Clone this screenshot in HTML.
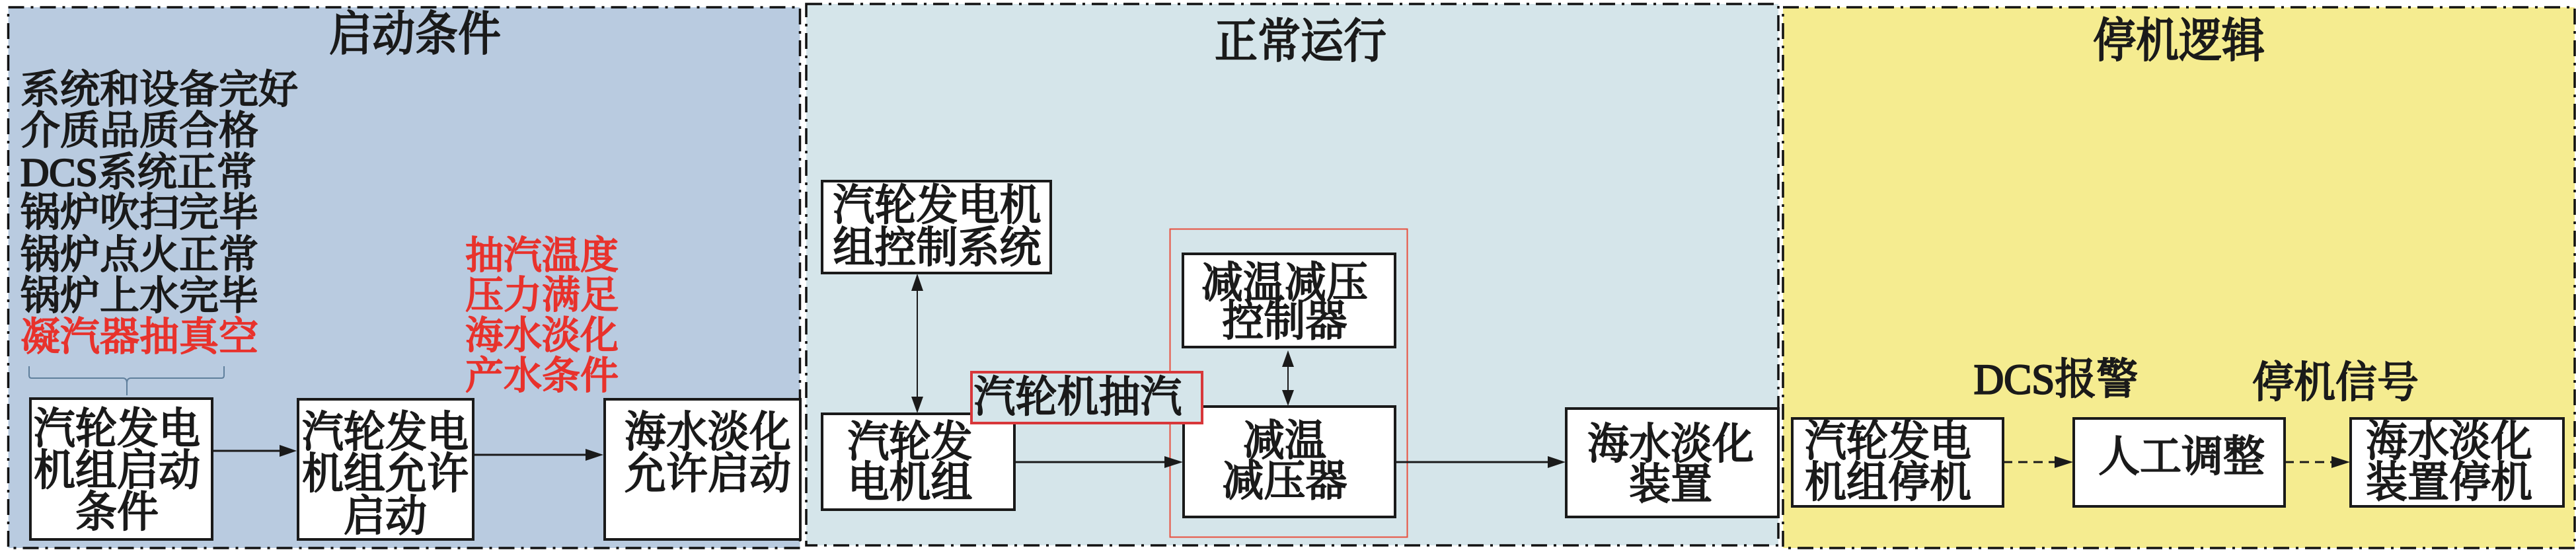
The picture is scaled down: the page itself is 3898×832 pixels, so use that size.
<!DOCTYPE html>
<html><head><meta charset="utf-8"><style>
html,body{margin:0;padding:0;background:#fff;width:3898px;height:832px;overflow:hidden}
svg{display:block}
text{font-family:"Liberation Serif","Noto Serif CJK SC",serif;font-weight:400;fill:#1a1a1a;stroke:#1a1a1a;stroke-width:2.2;font-size:63px;text-anchor:middle;transform-box:fill-box;transform-origin:center;transform:scaleY(1.03)}
.t{font-size:65px;transform:scaleY(1.1)}
.l{text-anchor:start;font-size:60px;transform:scaleY(1)}
.r{fill:#e8322c;stroke:#e8322c;font-size:58px;text-anchor:start;transform:scaleY(1)}
.b{fill:#fff;stroke:#1a1a1a;stroke-width:4}
.a{stroke:#1a1a1a;stroke-width:3;fill:none}
.h{fill:#1a1a1a;stroke:none}
.p{stroke:#111;stroke-width:3.5;stroke-dasharray:24 10 4 10}
</style></head><body>
<svg width="3898" height="832" viewBox="0 0 3898 832" xmlns="http://www.w3.org/2000/svg">
<rect width="3898" height="832" fill="#fff"/>
<rect class="p" x="12.5" y="11" width="1198" height="818" fill="#b9cbe0"/>
<rect class="p" x="1220" y="6" width="1471" height="819" fill="#d5e5ea"/>
<rect class="p" x="2698" y="11" width="1198" height="818" fill="#f5ec90"/>

<!-- Panel 1 -->
<text class="t" x="628" y="74">启动条件</text>
<text class="l" x="31" y="156">系统和设备完好</text>
<text class="l" x="31" y="218">介质品质合格</text>
<text class="l" x="31" y="281">DCS系统正常</text>
<text class="l" x="31" y="342">锅炉吹扫完毕</text>
<text class="l" x="31" y="406">锅炉点火正常</text>
<text class="l" x="31" y="468">锅炉上水完毕</text>
<text class="l" x="31" y="530" style="fill:#e8322c;stroke:#e8322c">凝汽器抽真空</text>
<text class="r" x="704" y="406">抽汽温度</text>
<text class="r" x="704" y="466">压力满足</text>
<text class="r" x="704" y="527">海水淡化</text>
<text class="r" x="704" y="588">产水条件</text>
<path d="M44 554V568Q44 572 48 572H186Q192 572 192 580V598M192 580Q192 572 198 572H335Q339 572 339 568V554" fill="none" stroke="#5f7f9c" stroke-width="2"/>

<rect class="b" x="46" y="603" width="275" height="213"/>
<text x="177" y="670">汽轮发电</text>
<text x="177" y="733">机组启动</text>
<text x="177" y="796">条件</text>
<rect class="b" x="451" y="604" width="265" height="212"/>
<text x="583" y="675">汽轮发电</text>
<text x="583" y="738">机组允许</text>
<text x="583" y="802">启动</text>
<rect class="b" x="915" y="604" width="296" height="212"/>
<text x="1071" y="675">海水淡化</text>
<text x="1071" y="738">允许启动</text>
<path class="a" d="M322 682H425M716 688H888"/>
<path class="h" d="M449 682L423 673V691ZM913 688L886 679V697Z"/>

<!-- Panel 2 -->
<text class="t" x="1968" y="85">正常运行</text>
<rect class="b" x="1244" y="274" width="346" height="139"/>
<text x="1418" y="332">汽轮发电机</text>
<text x="1418" y="396">组控制系统</text>
<rect class="b" x="1244" y="626" width="291" height="145"/>
<text x="1377" y="690">汽轮发</text>
<text x="1377" y="751">电机组</text>
<rect x="1770.5" y="346.5" width="359" height="466" fill="none" stroke="#e8503f" stroke-width="2"/>
<rect class="b" x="1790" y="384" width="321" height="141"/>
<text x="1944" y="449">减温减压</text>
<text x="1944" y="507">控制器</text>
<rect class="b" x="1791" y="615" width="320" height="167"/>
<text x="1944" y="688">减温</text>
<text x="1944" y="749">减压器</text>
<rect class="b" x="2370" y="618" width="321" height="164"/>
<text x="2528" y="693">海水淡化</text>
<text x="2528" y="754">装置</text>
<path d="M1388 430V610M1949 545V600" stroke="#1a1a1a" stroke-width="2" fill="none"/>
<path class="h" d="M1388 414L1379 440H1397ZM1388 625L1379 600H1397ZM1949 530L1940 555H1958ZM1949 614L1940 590H1958Z"/>
<path class="a" d="M1535 699H1765M2111 699H2345"/>
<path class="h" d="M1790 699L1762 690V708ZM2369 699L2342 690V708Z"/>
<rect x="1470" y="563" width="349" height="77" fill="#d5e5ea" stroke="#d8373a" stroke-width="4"/>
<text x="1631" y="622">汽轮机抽汽</text>

<!-- Panel 3 -->
<text class="t" x="3297" y="84">停机逻辑</text>
<text x="3111" y="595">DCS报警</text>
<text x="3534" y="600">停机信号</text>
<rect class="b" x="2712" y="633" width="319" height="133"/>
<text x="2857" y="689">汽轮发电</text>
<text x="2857" y="751">机组停机</text>
<rect class="b" x="3138" y="633" width="319" height="133"/>
<text x="3301" y="712">人工调整</text>
<rect class="b" x="3557" y="633" width="322" height="133"/>
<text x="3706" y="689">海水淡化</text>
<text x="3706" y="751">装置停机</text>
<path class="a" d="M3031 699H3110M3457 699H3530" stroke-dasharray="14 9"/>
<path class="h" d="M3137 699L3109 690V708ZM3556 699L3528 690V708Z"/>
</svg>
</body></html>
